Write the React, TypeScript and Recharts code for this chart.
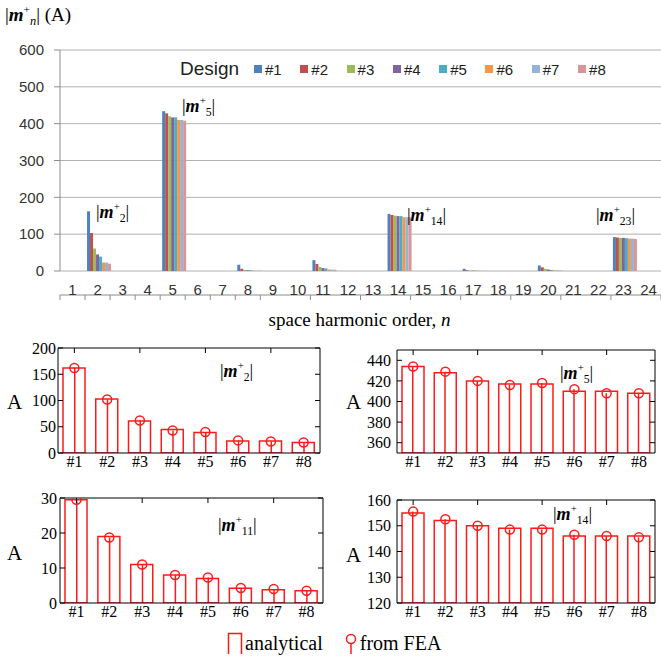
import React from 'react';
import {
  BarChart,
  Bar,
  ComposedChart,
  Line,
  XAxis,
  YAxis,
  CartesianGrid,
} from 'recharts';

const HARMONICS = [1, 2, 3, 4, 5, 6, 7, 8, 9, 10, 11, 12, 13, 14, 15, 16, 17, 18, 19, 20, 21, 22, 23, 24];
const DESIGNS = ['#1', '#2', '#3', '#4', '#5', '#6', '#7', '#8'];
const TOP_TICKS = [0, 100, 200, 300, 400, 500, 600];

// analytical values per harmonic, one entry per design
const M2_AN = [162, 103, 61, 45, 39, 23, 23, 20];
const M5_AN = [434, 428, 420, 417, 417, 410, 410, 408];
const M8_AN = [17, 6, 3, 2, 2, 1, 1, 1];
const M11_AN = [29.5, 19, 11, 8, 7, 4.2, 3.8, 3.5];
const M14_AN = [155, 152, 150, 149, 149, 146, 146, 146];
const M17_AN = [6, 2, 1, 1, 1, 0.5, 0.5, 0.5];
const M20_AN = [15, 10, 6, 4, 3, 2, 2, 1.5];
const M23_AN = [92, 91, 90, 90, 89, 88, 88, 87];

// FEA values
const M2_FEA = [162, 102, 62, 43, 40, 24, 22, 20];
const M5_FEA = [434, 429, 420, 416, 418, 412, 408, 408];
const M11_FEA = [29.5, 18.7, 11, 8, 7.3, 4.3, 4, 3.5];
const M14_FEA = [155.5, 152.5, 150, 148.5, 148.5, 146.5, 146, 145.5];

const COLORS = ['#4F81BD', '#C0504D', '#9BBB59', '#8064A2', '#4BACC6', '#F79646', '#95B3D7', '#D99694'];

const BY_HARMONIC: Record<number, number[]> = {
  2: M2_AN,
  5: M5_AN,
  8: M8_AN,
  11: M11_AN,
  14: M14_AN,
  17: M17_AN,
  20: M20_AN,
  23: M23_AN,
};

const topRows = HARMONICS.map((n) => {
  const row: Record<string, number | string> = { n, label: String(n) };
  const vals = BY_HARMONIC[n];
  DESIGNS.forEach((d, i) => {
    row[d] = vals ? vals[i] : 0;
  });
  return row;
});

const SERIF = '"Liberation Serif", "Times New Roman", serif';
const SANS = '"Liberation Sans", Arial, sans-serif';

// tick marks only, no label
const NoLabel = () => <g />;

function Mag({ sub, left, top, size = 18 }: { sub: string; left: number; top: number; size?: number }) {
  return (
    <div
      style={{
        position: 'absolute',
        left,
        top,
        fontFamily: SERIF,
        fontSize: size,
        lineHeight: 1,
        whiteSpace: 'nowrap',
        color: '#000',
      }}
    >
      |<span style={{ fontStyle: 'italic', fontWeight: 600 }}>m</span>
      <sup style={{ fontSize: '0.6em', verticalAlign: '0.7em', lineHeight: 0 }}>+</sup>
      <sub style={{ fontSize: '0.65em', verticalAlign: '-0.3em', lineHeight: 0 }}>{sub}</sub>|
    </div>
  );
}

function TopChart() {
  const boundaryTicks = HARMONICS.map((n) => n - 0.5).concat([24.5]);
  return (
    <div style={{ position: 'absolute', left: 0, top: 0 }}>
      <BarChart
        width={661}
        height={300}
        data={topRows}
        margin={{ top: 50, right: 0, left: 0, bottom: 4 }}
        barCategoryGap={2}
        barGap={0}
      >
        <CartesianGrid xAxisId="cat" vertical={false} stroke="#b0b0b0" />
        <XAxis
          xAxisId="tick"
          dataKey="n"
          type="number"
          domain={[0.5, 24.5]}
          ticks={boundaryTicks}
          allowDataOverflow
          tick={NoLabel}
          tickSize={6}
          height={1}
          stroke="#8c8c8c"
        />
        <XAxis
          xAxisId="cat"
          dataKey="label"
          interval={0}
          axisLine={false}
          tickLine={false}
          tickSize={0}
          tickMargin={13}
          height={24}
          tick={{ fill: '#333', fontSize: 15, fontFamily: SANS }}
        />
        <YAxis
          domain={[0, 600]}
          ticks={TOP_TICKS}
          width={60}
          tickSize={6}
          tickMargin={10}
          stroke="#8c8c8c"
          tick={{ fill: '#333', fontSize: 15, fontFamily: SANS }}
        />
        {DESIGNS.map((d, i) => (
          <Bar key={d} xAxisId="cat" dataKey={d} fill={COLORS[i]} isAnimationActive={false} />
        ))}
      </BarChart>
    </div>
  );
}

function TopLegend() {
  return (
    <div
      style={{
        position: 'absolute',
        left: 180,
        top: 58,
        display: 'flex',
        alignItems: 'center',
        fontFamily: SANS,
        color: '#222',
      }}
    >
      <span style={{ fontSize: 19, width: 74 }}>Design</span>
      {DESIGNS.map((d, i) => (
        <span key={d} style={{ display: 'flex', alignItems: 'center', width: 46.3, fontSize: 15 }}>
          <span style={{ width: 8, height: 8, background: COLORS[i], marginRight: 3 }} />
          {d}
        </span>
      ))}
    </div>
  );
}

interface SubProps {
  an: number[];
  fea: number[];
  domain: [number, number];
  ticks: number[];
  left: number;
  top: number;
  width: number;
  yWidth: number;
  marginTop: number;
  marginRight: number;
  tickMargin: number;
}

function SubPlot({ an, fea, domain, ticks, left, top, width, yWidth, marginTop, marginRight, tickMargin }: SubProps) {
  const rows = DESIGNS.map((d, i) => ({ design: d, an: an[i], fea: fea[i] }));
  const tickFont = { fill: '#000', fontSize: 16, fontFamily: SERIF };
  return (
    <div style={{ position: 'absolute', left, top }}>
      <ComposedChart
        width={width}
        height={150}
        data={rows}
        margin={{ top: marginTop, right: marginRight, left: 0, bottom: 5 }}
      >
        <XAxis
          xAxisId="x"
          dataKey="design"
          interval={0}
          axisLine={{ stroke: '#000' }}
          tickLine={false}
          tickSize={0}
          tickMargin={3}
          height={22}
          tick={tickFont}
        />
        <XAxis xAxisId="stem" dataKey="design" hide height={0} />
        <XAxis
          xAxisId="top"
          dataKey="design"
          orientation="top"
          mirror
          height={1}
          ticks={['#1', '#3', '#5', '#7']}
          tick={NoLabel}
          tickSize={5}
          stroke="#000"
        />
        <YAxis
          yAxisId="y"
          domain={domain}
          ticks={ticks}
          interval={0}
          allowDataOverflow
          width={yWidth}
          axisLine={{ stroke: '#000' }}
          tickLine={false}
          tickSize={0}
          tickMargin={tickMargin}
          tick={tickFont}
        />
        <YAxis
          yAxisId="yin"
          domain={domain}
          ticks={ticks}
          interval={0}
          allowDataOverflow
          mirror
          width={1}
          axisLine={false}
          tick={NoLabel}
          tickSize={5}
          stroke="#000"
        />
        <YAxis
          yAxisId="yr"
          orientation="right"
          domain={domain}
          ticks={ticks}
          interval={0}
          allowDataOverflow
          mirror
          width={1}
          tick={NoLabel}
          tickSize={5}
          stroke="#000"
        />
        <Bar
          xAxisId="x"
          yAxisId="y"
          dataKey="an"
          barSize={22}
          fill="#fff"
          stroke="#ff1a1a"
          strokeWidth={1.5}
          isAnimationActive={false}
        />
        <Bar xAxisId="stem" yAxisId="y" dataKey="fea" barSize={1.5} fill="#ff1a1a" isAnimationActive={false} />
        <Line
          xAxisId="x"
          yAxisId="y"
          dataKey="fea"
          stroke="none"
          dot={{ r: 4.5, stroke: '#ff1a1a', strokeWidth: 1.5, fill: 'none' }}
          activeDot={false}
          isAnimationActive={false}
        />
      </ComposedChart>
    </div>
  );
}

function ALabel({ left, top }: { left: number; top: number }) {
  return (
    <div style={{ position: 'absolute', left, top, fontFamily: SERIF, fontSize: 21, lineHeight: 1 }}>A</div>
  );
}

export default function App() {
  return (
    <div
      style={{
        position: 'absolute',
        left: 0,
        top: 0,
        width: 661,
        height: 659,
        background: '#fff',
        overflow: 'hidden',
      }}
    >
      <TopChart />
      <TopLegend />

      {/* top chart y label */}
      <div
        style={{
          position: 'absolute',
          left: 5,
          top: 5,
          fontFamily: SERIF,
          fontSize: 19,
          lineHeight: 1,
          whiteSpace: 'nowrap',
        }}
      >
        |<span style={{ fontStyle: 'italic', fontWeight: 600 }}>m</span>
        <sup style={{ fontSize: '0.6em', verticalAlign: '0.7em', lineHeight: 0 }}>+</sup>
        <sub style={{ fontSize: '0.65em', verticalAlign: '-0.3em', lineHeight: 0, fontStyle: 'italic' }}>n</sub>|
        {' (A)'}
      </div>

      <Mag sub="2" left={96} top={203} />
      <Mag sub="5" left={182} top={97} />
      <Mag sub="14" left={407} top={206} />
      <Mag sub="23" left={596} top={206} />

      <div
        style={{
          position: 'absolute',
          left: 0,
          width: 661,
          paddingLeft: 58,
          top: 310,
          textAlign: 'center',
          fontFamily: SERIF,
          fontSize: 19,
          lineHeight: 1,
          boxSizing: 'border-box',
        }}
      >
        space harmonic order, <i>n</i>
      </div>

      <SubPlot
        an={M2_AN}
        fea={M2_FEA}
        domain={[0, 200]}
        ticks={[0, 50, 100, 150, 200]}
        left={0}
        top={330}
        width={330}
        yWidth={58}
        marginTop={18}
        marginRight={10}
        tickMargin={2}
      />
      <SubPlot
        an={M5_AN}
        fea={M5_FEA}
        domain={[350, 450]}
        ticks={[360, 380, 400, 420, 440]}
        left={330}
        top={330}
        width={331}
        yWidth={67}
        marginTop={20}
        marginRight={6}
        tickMargin={6}
      />
      <SubPlot
        an={M11_AN}
        fea={M11_FEA}
        domain={[0, 30]}
        ticks={[0, 10, 20, 30]}
        left={0}
        top={480}
        width={330}
        yWidth={60}
        marginTop={18}
        marginRight={7}
        tickMargin={3}
      />
      <SubPlot
        an={M14_AN}
        fea={M14_FEA}
        domain={[120, 160]}
        ticks={[120, 130, 140, 150, 160]}
        left={330}
        top={480}
        width={331}
        yWidth={67}
        marginTop={20}
        marginRight={6}
        tickMargin={6}
      />

      <ALabel left={7} top={392} />
      <ALabel left={346} top={392} />
      <ALabel left={7} top={543} />
      <ALabel left={346} top={545} />

      <Mag sub="2" left={220} top={362} />
      <Mag sub="5" left={560} top={364} />
      <Mag sub="11" left={218} top={516} />
      <Mag sub="14" left={553} top={505} />

      {/* bottom legend */}
      <div
        style={{
          position: 'absolute',
          left: 227,
          top: 632,
          display: 'flex',
          alignItems: 'center',
          fontFamily: SERIF,
          fontSize: 20,
          lineHeight: 1,
        }}
      >
        <svg width={16} height={22} style={{ marginRight: 2 }}>
          <path d="M1.5 22 V1.5 H14.5 V22" fill="none" stroke="#ff1a1a" strokeWidth={1.5} />
        </svg>
        <span style={{ marginRight: 22 }}>analytical</span>
        <svg width={12} height={22} style={{ marginRight: 3 }}>
          <circle cx={6} cy={7} r={4.5} fill="none" stroke="#ff1a1a" strokeWidth={1.5} />
          <line x1={6} y1={11.5} x2={6} y2={22} stroke="#ff1a1a" strokeWidth={1.5} />
        </svg>
        <span>from FEA</span>
      </div>
    </div>
  );
}
